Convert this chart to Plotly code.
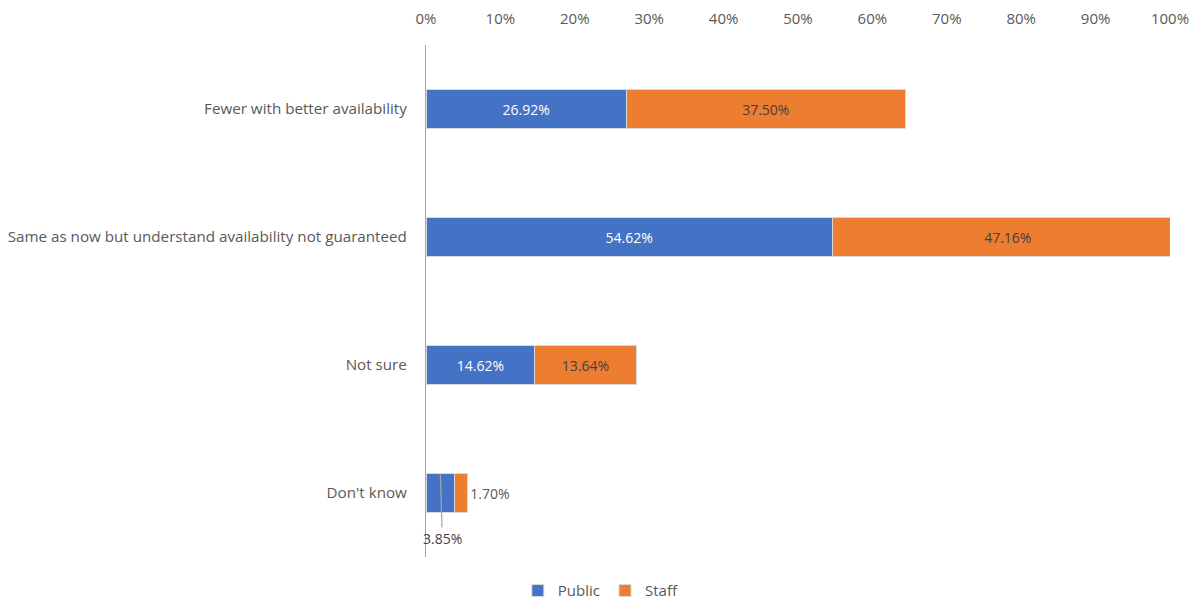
import plotly.graph_objects as go

categories = [
    "Fewer with better availability",
    "Same as now but understand availability not guaranteed",
    "Not sure",
    "Don't know",
]
public = [26.92, 54.62, 14.62, 3.85]
staff = [37.50, 47.16, 13.64, 1.70]
x_ticks = list(range(0, 101, 10))

FONT = "Open Sans, sans-serif"
BLUE = "#4472C4"
ORANGE = "#ED7D31"
GREY = "#595959"

public_text = [f"{v:.2f}%" if v >= 10 else "" for v in public]
staff_text = [f"{v:.2f}%" for v in staff]
staff_pos = ["inside" if v >= 10 else "outside" for v in staff]

fig = go.Figure()
fig.add_trace(go.Bar(
    name="Public", y=categories, x=public, orientation="h",
    marker=dict(color=BLUE, line=dict(color="#d9d9d9", width=1)),
    text=public_text, textposition="inside", insidetextanchor="middle",
    textfont=dict(color="white", size=14, family=FONT),
    hoverinfo="skip",
))
fig.add_trace(go.Bar(
    name="Staff", y=categories, x=staff, orientation="h",
    marker=dict(color=ORANGE, line=dict(color="#d9d9d9", width=1)),
    text=staff_text, textposition=staff_pos, insidetextanchor="middle",
    textfont=dict(color="#404040", size=14, family=FONT),
    outsidetextfont=dict(color=GREY, size=14, family=FONT),
    cliponaxis=True, hoverinfo="skip",
))

# leader-line label for the small public value
small_idx = 3
fig.add_annotation(
    x=public[small_idx] / 2, y=small_idx - 0.155, xref="x", yref="y",
    text=f"{public[small_idx]:.2f}%", showarrow=True, arrowhead=0,
    arrowwidth=1.2, arrowcolor="#a6a6a6", ax=2, ay=65,
    font=dict(color="#404040", size=14, family=FONT),
)

fig.update_layout(
    width=1195, height=599,
    barmode="stack", bargap=0.69,
    plot_bgcolor="white", paper_bgcolor="white",
    margin=dict(l=426, r=25, t=45, b=42, autoexpand=False),
    font=dict(family=FONT, color=GREY, size=14),
    legend=dict(
        orientation="h", xref="paper", yref="paper",
        x=0.235, xanchor="center", y=-0.066, yanchor="middle",
        font=dict(size=15, color=GREY, family=FONT),
        itemwidth=30, traceorder="normal",
    ),
    xaxis=dict(
        side="top", range=[0, 100], tickvals=x_ticks,
        ticktext=[f"{v}%" for v in x_ticks],
        showgrid=False, zeroline=False, showline=False,
        ticks="", ticklabelstandoff=17, tickangle=0,
        tickfont=dict(size=15, color=GREY, family=FONT),
        fixedrange=True,
    ),
    yaxis=dict(
        autorange="reversed", showgrid=False, zeroline=False,
        showline=True, linecolor="#a6a6a6", linewidth=1.2,
        ticks="", ticklabelstandoff=15,
        tickfont=dict(size=15.2, color=GREY, family=FONT),
        fixedrange=True,
    ),
)

fig.write_html("out.html")
